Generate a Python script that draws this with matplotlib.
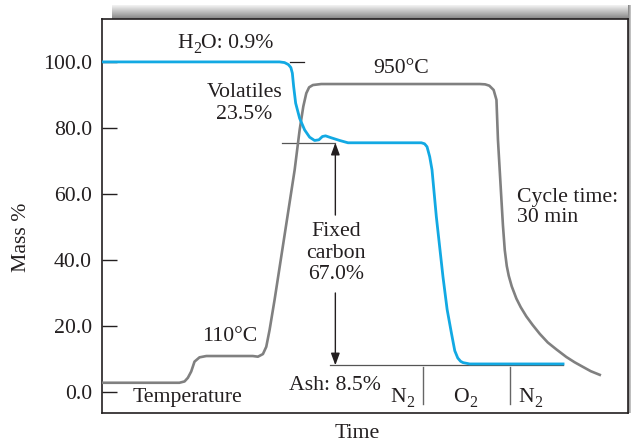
import numpy as np
import matplotlib
matplotlib.use("Agg")
import matplotlib.pyplot as plt
from matplotlib.transforms import offset_copy

plt.rcParams['font.family'] = ['Liberation Serif', 'DejaVu Serif']

# ---- data (time in minutes, mass in %) ----
mass_time = [0, 10.72, 11.02, 11.25, 11.40, 11.49, 11.57, 11.69, 11.93, 12.23, 12.53,
             12.83, 13.09, 13.30, 13.49, 13.84, 14.34, 14.84, 19.26, 19.45, 19.60,
             19.76, 19.90, 20.16, 20.56, 20.81, 21.07, 21.27, 21.45, 21.62, 21.77,
             22.17, 27.79]
mass_pct = [100, 100, 99.8, 99.2, 98.3, 96.6, 92.5, 87.5, 82.9, 79.4, 77.2,
            76.2, 76.4, 77.4, 77.6, 77.0, 76.2, 75.5, 75.5, 75.2, 74.3,
            71.3, 67.3, 53.1, 34.9, 25.0, 17.8, 12.5, 10.3, 9.3, 8.9,
            8.5, 8.5]

temp_time = [0, 4.69, 5.00, 5.20, 5.40, 5.60, 5.90, 6.31, 9.11, 9.42, 9.72, 9.92,
             10.12, 10.42, 11.63, 11.93, 12.15, 12.33, 12.50, 12.73, 13.23, 22.77,
             23.10, 23.35, 23.61, 23.78, 23.87, 24.08, 24.17, 24.28, 24.40, 24.52,
             24.70, 24.98, 25.24, 25.58, 25.96, 26.39, 26.87, 27.39, 27.99, 28.49,
             28.99, 29.46, 30.0]
temp_pct = [2.8, 2.8, 3.2, 4.3, 6.2, 9.2, 10.5, 10.9, 10.9, 10.7, 11.5, 13.7,
            18.8, 27.9, 67.3, 79.4, 86.5, 90.5, 92.3, 93.0, 93.3, 93.3,
            93.2, 92.8, 91.5, 88.5, 76.4, 58.2, 50.5, 43.0, 38.2, 35.2,
            32.0, 28.3, 25.7, 22.9, 20.3, 17.6, 15.0, 12.9, 10.6, 9.0,
            7.6, 6.3, 5.2]

ytick_vals = [0, 20, 40, 60, 80, 100]
ytick_labels = ["0.0", "20.0", "40.0", "60.0", "80.0", "100.0"]

h2o_level = 100.0
fixed_level = 75.5
ash_level = 8.1
arrow_t = 14.08
gas_dividers = [19.36, 24.62]

BLUE = '#12A9E3'
GRAY = '#808080'
INK = '#231F20'
FS = 15.7

W, H = 631, 442
fig = plt.figure(figsize=(W / 100, H / 100), dpi=100)

# shadow bars
sh_top = fig.add_axes([112 / W, (H - 19) / H, (W - 112) / W, 14 / H])
grad = np.linspace(0.95, 0.52, 30).reshape(-1, 1)
sh_top.imshow(np.repeat(grad, 2, axis=1), cmap='gray', vmin=0, vmax=1,
              aspect='auto', interpolation='bilinear')
sh_top.axis('off')
sh_right = fig.add_axes([628 / W, (H - 413) / H, 3 / W, (413 - 5) / H])
sh_right.imshow(np.array([[0.55, 0.75]]), cmap='gray', vmin=0, vmax=1,
                aspect='auto', interpolation='bilinear')
sh_right.axis('off')

ax = fig.add_axes([101.5 / W, (H - 413) / H, (628 - 101.5) / W, (413 - 19) / H])
ax.set_xlim(0, 31.7)
ax.set_ylim(-6.36, 113.0)
for s in ax.spines.values():
    s.set_linewidth(1.2)
    s.set_color(INK)
ax.set_xticks([])
ax.set_yticks(ytick_vals)
ax.set_yticklabels(ytick_labels, fontsize=FS, color=INK)
ax.tick_params(axis='y', direction='in', length=11, width=1.0, pad=7, color=INK)

# curves
ax.plot(temp_time, temp_pct, color=GRAY, lw=1.9, solid_joinstyle='round', zorder=3)
ax.plot(mass_time, mass_pct, color=BLUE, lw=2.0, solid_joinstyle='round', zorder=4)

# reference lines
ax.plot([11.33, 12.19], [h2o_level, h2o_level], color=INK, lw=0.9, zorder=2)
ax.plot([10.84, arrow_t], [fixed_level, fixed_level], color='#555555', lw=0.9, zorder=2)
ax.plot([13.73, 27.77], [ash_level, ash_level], color='#555555', lw=0.9, zorder=2)
for d in gas_dividers:
    ax.plot([d, d], [7.7, -3.6], color='#666666', lw=1.0, zorder=2)

# fixed carbon arrows
akw = dict(arrowstyle='-|>,head_length=0.6,head_width=0.22', color=INK, lw=1.0,
           shrinkA=0, shrinkB=0, mutation_scale=12)
ax.annotate('', xy=(arrow_t, fixed_level), xytext=(arrow_t, 53.6), arrowprops=akw)
ax.annotate('', xy=(arrow_t, ash_level), xytext=(arrow_t, 30.0), arrowprops=akw)

tk = dict(fontsize=FS, color=INK)
renderer = fig.canvas.get_renderer()


def sub_text(x, y, parts):
    """Centered baseline text made of (string, is_subscript) parts."""
    sizes = [FS * 0.72 if sub else FS for _, sub in parts]
    widths = []
    for (s, sub), fs in zip(parts, sizes):
        t = ax.text(0, 0, s, fontsize=fs)
        widths.append(t.get_window_extent(renderer).width)
        t.remove()
    dx = -sum(widths) / 2
    for (s, sub), fs, w in zip(parts, sizes, widths):
        tr = offset_copy(ax.transData, fig=fig, x=dx, y=(-5 if sub else 0), units='dots')
        ax.text(x, y, s, transform=tr, ha='left', va='baseline', fontsize=fs, color=INK)
        dx += w


sub_text(7.47, 104.2, [('H', False), ('2', True), ('O: 0.9%', False)])
ax.text(18.07, 97.9, '950°C', ha='center', va='center', **tk)
ax.text(8.61, 87.4, 'Volatiles\n23.5%', ha='center', va='center', linespacing=1.15, **tk)
ax.text(14.1, 42.1, 'Fixed\ncarbon\n67.0%', ha='center', va='center', linespacing=1.15, **tk)
ax.text(25.0, 55.9, 'Cycle time:\n30 min', ha='left', va='center', linespacing=1.1, **tk)
ax.text(7.71, 16.7, '110°C', ha='center', va='center', **tk)
ax.text(5.15, -1.7, 'Temperature', ha='center', va='center', **tk)
ax.text(14.04, 0.6, 'Ash: 8.5%', ha='center', va='baseline', **tk)
sub_text(18.11, -2.9, [('N', False), ('2', True)])
sub_text(21.9, -2.9, [('O', False), ('2', True)])
sub_text(25.8, -2.9, [('N', False), ('2', True)])

fig.text(21.5 / W, 1 - 237.5 / H, 'Mass %', rotation=90, ha='center', va='center', **tk)
fig.text(357 / W, 1 - 433 / H, 'Time', ha='center', va='center', **tk)

fig.savefig('out.png', dpi=100)
